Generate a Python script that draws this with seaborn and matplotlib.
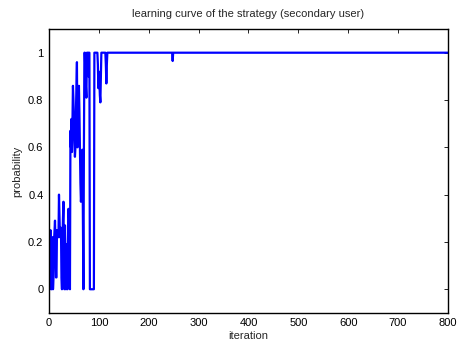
import numpy as np
import pandas as pd
import matplotlib
matplotlib.use("Agg")
import matplotlib.pyplot as plt
import seaborn as sns

# probability for the first 116 iterations
early_prob = [
    0.00, 0.10, 0.25, 0.00, 0.00, 0.22, 0.22, 0.00, 0.05, 0.20,
    0.25, 0.29, 0.20, 0.05, 0.05, 0.25, 0.22, 0.25, 0.22, 0.40,
    0.30, 0.22, 0.26, 0.26, 0.05, 0.00, 0.20, 0.30, 0.37, 0.10,
    0.00, 0.27, 0.10, 0.00, 0.19, 0.05, 0.00, 0.20, 0.34, 0.30,
    0.05, 0.00, 0.67, 0.60, 0.72, 0.58, 0.70, 0.86, 0.80, 0.70,
    0.62, 0.56, 0.60, 0.75, 0.85, 0.96, 0.60, 0.70, 0.80, 0.86,
    0.75, 0.60, 0.45, 0.37, 0.40, 0.50, 0.59, 0.30, 0.00, 0.60,
    1.00, 1.00, 0.90, 0.85, 0.81, 1.00, 1.00, 1.00, 0.90, 1.00,
    1.00, 0.00, 0.00, 0.00, 0.00, 0.00, 0.00, 0.00, 0.00, 0.00,
    1.00, 1.00, 1.00, 1.00, 1.00, 1.00, 1.00, 0.95, 0.85, 0.92,
    0.88, 0.82, 0.79, 0.90, 1.00, 1.00, 1.00, 1.00, 1.00, 1.00,
    1.00, 1.00, 1.00, 0.95, 0.87, 0.95,
]
n_iter = 800
dip_iter = 248
dip_value = 0.965

prob = [1.0] * n_iter
prob[:len(early_prob)] = early_prob
prob[dip_iter - 1] = dip_value

df = pd.DataFrame({"iteration": np.arange(1, n_iter + 1), "probability": prob})

x_ticks = [0, 100, 200, 300, 400, 500, 600, 700, 800]
y_ticks = [0, 0.2, 0.4, 0.6, 0.8, 1]
y_labels = ["0", "0.2", "0.4", "0.6", "0.8", "1"]

sns.set_theme(style="white")
plt.rcParams["font.family"] = ["Liberation Sans", "DejaVu Sans"]
plt.rcParams.update({
    "xtick.direction": "in",
    "ytick.direction": "in",
    "xtick.top": True,
    "ytick.right": True,
    "xtick.major.size": 3,
    "ytick.major.size": 3,
    "xtick.major.width": 0.6,
    "ytick.major.width": 0.6,
    "axes.edgecolor": "black",
    "axes.linewidth": 1.0,
})

fig = plt.figure(figsize=(4.58, 3.5), dpi=100)
ax = fig.add_axes([0.107, 0.106, 0.871, 0.811])

sns.lineplot(data=df, x="iteration", y="probability", ax=ax,
             color="#0000ff", linewidth=1.6)

ax.set_xlim(0, 800)
ax.set_ylim(-0.1, 1.1)
ax.set_xticks(x_ticks)
ax.set_yticks(y_ticks)
ax.set_yticklabels(y_labels)
ax.tick_params(labelsize=8, colors="black", pad=4)
ax.set_xlabel("iteration", fontsize=8, labelpad=2)
ax.set_ylabel("probability", fontsize=8, labelpad=4)
ax.set_title("learning curve of the strategy (secondary user)", fontsize=8, pad=9)
for s in ax.spines.values():
    s.set_visible(True)
    s.set_color("black")

fig.savefig("out.png", dpi=100)
